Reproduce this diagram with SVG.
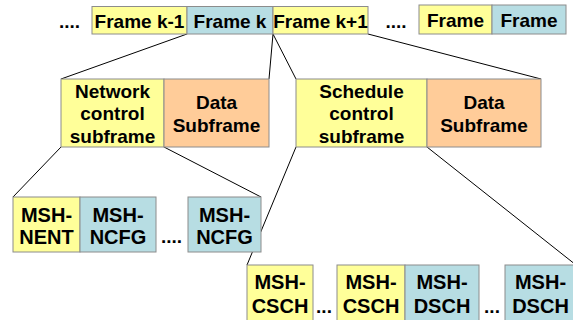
<svg xmlns="http://www.w3.org/2000/svg" width="573" height="320" viewBox="0 0 573 320">
<style>
.y{fill:#FFFF99;stroke:#8C8C8C;stroke-width:1}
.b{fill:#B7DDE3;stroke:#8C8C8C;stroke-width:1}
.o{fill:#FFCC99;stroke:#8C8C8C;stroke-width:1}
text{font-family:"Liberation Sans",Arial,sans-serif;font-weight:bold;fill:#000;text-anchor:middle}
.t{font-size:19px}
.m{font-size:20px}
.c line{stroke:#000;stroke-width:1}
</style>
<rect width="573" height="320" fill="#fff"/>
<g id="connectors" class="c">
<line x1="187" y1="34" x2="61" y2="79"/>
<line x1="273" y1="34" x2="269" y2="79"/>
<line x1="273" y1="34" x2="296" y2="79"/>
<line x1="368" y1="34" x2="541" y2="79"/>
<line x1="61" y1="147" x2="13" y2="197"/>
<line x1="164" y1="147" x2="261" y2="197"/>
<line x1="296" y1="147" x2="247" y2="265"/>
<line x1="427" y1="147" x2="576" y2="265"/>
</g>
<g id="dots">
<text class="t" x="69.5" y="28">....</text>
<text class="t" x="396" y="28">....</text>
<text class="t" x="171.5" y="243">....</text>
<text class="t" x="324" y="313">...</text>
<text class="t" x="492" y="313">...</text>
</g>
<g id="frame-k-1"><rect class="y" x="92" y="6.5" width="95" height="27.5"/><text class="t" x="139.5" y="27.5">Frame k-1</text></g>
<g id="frame-k"><rect class="b" x="187" y="6.5" width="86" height="27.5"/><text class="t" x="230" y="27.5">Frame k</text></g>
<g id="frame-k1"><rect class="y" x="273" y="6.5" width="95" height="27.5"/><text class="t" x="320.5" y="27.5">Frame k+1</text></g>
<g id="frame-a"><rect class="y" x="419" y="5" width="73" height="29"/><text class="t" x="455.5" y="27">Frame</text></g>
<g id="frame-b"><rect class="b" x="492" y="5" width="74" height="29"/><text class="t" x="529" y="27">Frame</text></g>
<g id="net-ctrl"><rect class="y" x="61" y="79" width="103" height="68"/>
<text class="t" x="112.5" y="97.5">Network</text><text class="t" x="112.5" y="120">control</text><text class="t" x="112.5" y="142.5">subframe</text></g>
<g id="net-data"><rect class="o" x="164" y="79" width="105" height="68"/>
<text class="t" x="216.5" y="109">Data</text><text class="t" x="216.5" y="131.5">Subframe</text></g>
<g id="sch-ctrl"><rect class="y" x="296" y="79" width="131" height="68"/>
<text class="t" x="361.5" y="97.5">Schedule</text><text class="t" x="361.5" y="120">control</text><text class="t" x="361.5" y="142.5">subframe</text></g>
<g id="sch-data"><rect class="o" x="427" y="79" width="114" height="68"/>
<text class="t" x="484" y="109">Data</text><text class="t" x="484" y="131.5">Subframe</text></g>
<g id="msh-nent"><rect class="y" x="13" y="197" width="67" height="55"/>
<text class="m" x="46.5" y="221.5">MSH-</text><text class="m" x="46.5" y="244">NENT</text></g>
<g id="msh-ncfg1"><rect class="b" x="80" y="197" width="76" height="55"/>
<text class="m" x="118" y="221.5">MSH-</text><text class="m" x="118" y="244">NCFG</text></g>
<g id="msh-ncfg2"><rect class="b" x="188" y="197" width="73" height="55"/>
<text class="m" x="224.5" y="221.5">MSH-</text><text class="m" x="224.5" y="244">NCFG</text></g>
<g id="msh-csch1"><rect class="y" x="247" y="265" width="66" height="70"/>
<text class="m" x="280" y="289">MSH-</text><text class="m" x="280" y="313">CSCH</text></g>
<g id="msh-csch2"><rect class="y" x="337" y="265" width="68" height="70"/>
<text class="m" x="371" y="289">MSH-</text><text class="m" x="371" y="313">CSCH</text></g>
<g id="msh-dsch1"><rect class="b" x="405" y="265" width="74" height="70"/>
<text class="m" x="442" y="289">MSH-</text><text class="m" x="442" y="313">DSCH</text></g>
<g id="msh-dsch2"><rect class="b" x="505" y="265" width="71" height="70"/>
<text class="m" x="540.5" y="289">MSH-</text><text class="m" x="540.5" y="313">DSCH</text></g>
</svg>
